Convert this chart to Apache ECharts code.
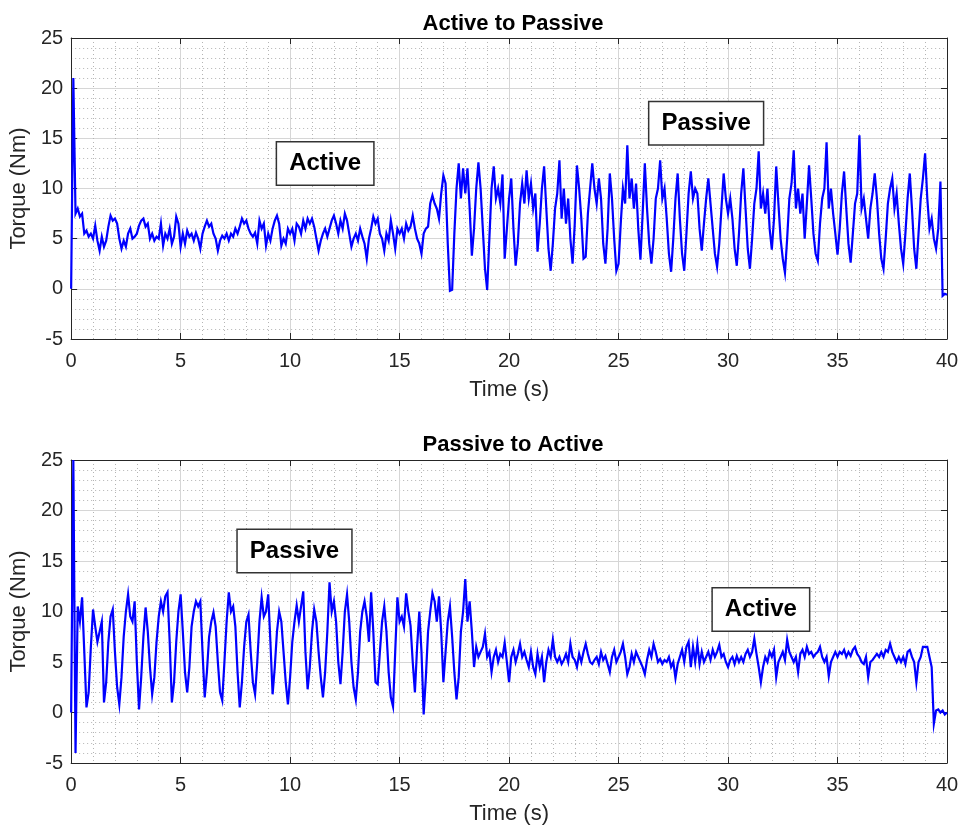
<!DOCTYPE html>
<html>
<head>
<meta charset="utf-8">
<title>Active / Passive torque</title>
<script src="https://cdn.jsdelivr.net/npm/echarts@6/dist/echarts.min.js"></script>
<style>
  html, body { margin: 0; padding: 0; background: #fff; }
  #chart { width: 962px; height: 830px; }
</style>
</head>
<body>
<div id="chart"></div>
<script>
// sample step of both recordings (s)
const dt = 0.1;

const titles = ["Active to Passive", "Passive to Active"];
const xName = "Time (s)";
const yName = "Torque (Nm)";

// torque, Active -> Passive run (Nm), one value every 0.1 s from 0 to 40 s
const activeToPassive = [
  0, 21, 7.5, 8, 7.2, 7.5, 5.5, 5.8, 5.2, 5.5,
  5.0, 6.3, 4.8, 3.8, 5.2, 4.2, 4.8, 6.2, 7.3, 6.8,
  7.0, 6.5, 5.0, 4.0, 4.8, 4.2, 5.5, 6.0, 5.0, 5.2,
  5.5, 6.3, 6.8, 7.0, 6.2, 6.5, 5.0, 5.5, 4.8, 5.2,
  5.0, 6.5, 4.3, 5.5, 5.0, 6.0, 4.5, 5.2, 7.2, 6.5,
  4.2, 5.5, 4.5, 5.8, 5.2, 5.5, 4.8, 5.6, 5.0, 4.0,
  5.5, 6.2, 6.8, 6.2, 6.5, 5.5, 5.0, 3.8, 4.8, 5.3,
  5.0, 5.5, 4.8, 5.5, 5.2, 6.0, 5.5, 6.2, 7.0, 6.5,
  6.8, 6.0, 5.5, 5.2, 5.6, 4.5, 6.8, 6.0, 6.5, 4.3,
  5.5, 4.8, 6.0, 6.8, 7.3, 6.5, 4.3, 5.0, 4.5, 6.0,
  5.5, 6.0, 4.8, 6.5, 6.2, 5.5, 6.8, 6.0, 7.0, 6.5,
  7.0, 6.2, 5.0, 3.8, 4.8, 5.5, 6.0, 5.2, 6.0, 6.8,
  7.3, 6.5, 5.5, 6.8, 6.0, 7.5, 6.8, 5.5, 4.2, 5.0,
  5.5, 4.8, 6.0, 5.2, 4.5, 3.0, 5.0, 6.0, 7.2, 6.5,
  7.0, 5.5, 5.0, 3.8, 5.5, 4.8, 6.8, 5.5, 4.0, 6.0,
  5.5, 6.0, 5.0, 6.5, 5.8, 6.2, 7.3, 6.0, 5.0, 4.5,
  3.5, 5.5, 6.0, 6.2, 8.5, 9.3, 8.5, 8.0, 7.0, 9.5,
  11.3, 10.5, 4.5, -0.2, -0.1, 5.5, 10.0, 12.5, 9.0, 12.0,
  9.5, 12.0, 8.0, 3.3, 6.0, 10.0, 12.6, 10.0, 6.0, 2.0,
  -0.1, 5.0, 10.0, 12.2, 9.0, 10.0, 8.5, 11.4, 3.0, 6.0,
  9.0, 11.0, 6.0, 2.3, 4.5, 8.5, 10.5, 8.5, 11.8, 9.0,
  10.5, 8.0, 9.5, 3.7, 6.5, 10.0, 12.2, 8.0, 4.0, 1.8,
  4.5, 8.0, 9.5, 12.8, 7.0, 10.0, 6.5, 9.0, 5.0, 2.5,
  6.5, 12.3, 10.0, 7.0, 3.0, 3.2, 7.5, 10.0, 12.5, 10.0,
  8.5, 11.0, 9.0, 4.5, 2.5, 6.0, 11.5, 9.0, 5.0, 1.8,
  2.5, 6.5, 10.0, 8.5, 14.3, 9.0, 11.0, 8.0, 10.5, 6.0,
  2.9, 7.5, 12.5, 8.0, 4.5, 2.5, 5.0, 9.0, 10.0, 12.8,
  9.0, 10.0, 7.0, 3.5, 1.7, 5.0, 9.0, 11.5, 7.0, 3.5,
  1.8, 5.5, 9.5, 11.7, 9.0, 10.0, 9.5, 6.0, 3.8, 6.5,
  9.0, 11.0, 8.5, 6.0, 3.5, 2.2, 4.5, 8.0, 11.5, 9.0,
  7.5, 9.0, 7.0, 4.0, 2.3, 5.5, 9.5, 12.0, 8.0, 4.0,
  2.0, 5.0, 8.5, 10.0, 13.7, 8.0, 9.5, 7.5, 10.0, 6.0,
  3.9, 7.0, 12.2, 8.5, 5.0, 3.0, 1.6, 5.0, 9.0, 10.5,
  13.8, 8.0, 10.0, 7.5, 9.5, 5.0, 8.5, 12.3, 9.0, 5.5,
  3.5, 2.8, 6.5, 9.0, 10.0, 14.6, 8.0, 10.0, 7.5, 5.5,
  3.4, 6.0, 9.5, 11.7, 8.0, 4.5, 2.6, 5.5, 8.5, 9.5,
  15.3, 8.0, 9.0, 7.0, 5.0, 8.0, 9.5, 11.5, 9.0, 5.5,
  3.0, 2.0, 5.0, 8.5, 10.0, 11.0, 8.0, 9.5, 6.5, 4.0,
  2.5, 5.5, 9.0, 11.5, 8.0, 4.0, 2.0, 5.5, 9.0, 11.0,
  13.5, 9.0, 6.0, 7.0, 5.0, 4.0, 6.0, 10.7, -0.7, -0.5,
  -0.6
];

// torque, Passive -> Active run (Nm), one value every 0.1 s from 0 to 40 s
const passiveToActive = [
  0, 25, -4, 10.5, 9.0, 11.4, 6.0, 0.5, 2.0, 6.5,
  10.2, 8.5, 7.0, 8.0, 9.0, 1.0, 3.0, 7.0, 9.5, 10.2,
  6.0, 2.5, 0.8, 3.5, 7.5, 10.0, 11.7, 9.5, 9.0, 11.0,
  5.0, 0.3, 3.5, 7.5, 10.4, 8.0, 4.5, 1.8, 3.5, 7.0,
  9.5, 11.0, 10.0, 11.5, 11.9, 7.0, 1.0, 3.0, 7.0, 10.0,
  11.7, 8.0, 4.0, 2.0, 4.5, 8.5, 10.0, 11.0, 10.5, 11.0,
  6.0, 1.5, 4.0, 7.5, 9.0, 9.9, 8.5, 5.0, 2.0, 1.2,
  5.0, 9.0, 11.9, 10.0, 10.5, 8.5, 4.0, 0.5, 3.0, 6.5,
  9.0, 9.7, 6.0, 3.0, 1.8, 5.0, 9.0, 11.4, 9.5, 10.0,
  11.7, 7.0, 1.8, 4.5, 8.0, 10.0, 9.0, 6.0, 3.0, 0.8,
  3.5, 7.0, 9.0, 10.6, 9.0, 10.5, 12.0, 6.0, 2.3, 4.5,
  8.0, 10.2, 9.0, 6.0, 3.5, 1.5, 4.0, 8.0, 12.9, 10.0,
  11.0, 9.0, 5.0, 2.8, 6.0, 10.0, 11.7, 9.0, 5.0, 2.5,
  1.3, 4.0, 8.0, 10.0, 11.0, 9.5, 7.0, 11.9, 8.0, 3.0,
  2.8, 6.0, 9.0, 10.5, 8.0, 4.0, 1.5, 0.6, 6.0, 11.4,
  9.0, 9.5, 8.5, 11.8, 10.0, 8.6, 5.0, 2.0, 6.5, 10.0,
  6.0, -0.2, 3.5, 8.0, 10.0, 11.8, 11.0, 9.0, 11.5, 8.0,
  3.0, 6.0, 9.0, 10.5, 7.5, 4.0, 1.3, 3.5, 8.0, 10.0,
  13.2, 9.0, 11.0, 8.0, 4.5, 6.5, 5.5, 6.0, 6.5, 7.8,
  5.5, 6.0, 4.0, 5.5, 6.2, 5.0, 5.8, 5.5, 6.9, 5.0,
  3.0, 5.5, 6.2, 5.0, 5.8, 6.8, 5.5, 6.0, 5.2, 4.5,
  6.0, 4.5, 3.8, 5.8, 4.5, 5.5, 3.0, 5.0, 6.2, 5.5,
  7.2, 5.5, 5.0, 5.5, 4.8, 5.2, 5.8, 5.0, 6.8, 5.5,
  5.2, 4.5, 5.8, 5.0, 6.0, 6.8, 5.8, 5.0, 4.8, 5.2,
  5.5, 4.8, 6.0, 5.2, 5.6, 4.8, 4.0, 5.5, 6.2, 5.0,
  5.5, 6.0, 6.8, 5.5, 3.8, 4.5, 5.8, 5.0, 6.0, 5.5,
  5.0, 4.5, 3.8, 5.2, 6.2, 5.5, 6.8, 6.0, 5.0, 5.3,
  4.8, 5.2, 5.0, 5.5, 4.5, 5.0, 3.4, 4.8, 5.5, 6.2,
  5.0, 6.5, 7.0, 4.5, 6.5, 5.0, 6.8, 4.8, 6.0, 5.0,
  5.5, 6.0, 5.2, 6.2, 5.5, 6.0, 6.7, 5.5, 5.8, 5.0,
  4.5, 5.2, 5.5, 4.8, 5.6, 5.0, 5.5, 5.0, 5.8, 6.2,
  5.5, 6.0, 7.3, 5.8, 4.5, 3.0, 4.5, 5.5, 5.0, 6.0,
  5.5, 6.2, 3.5, 5.0, 5.5, 6.0, 5.2, 7.2, 6.0, 5.5,
  5.0, 5.5, 4.0, 5.8, 6.2, 5.5, 6.5, 5.8, 6.0, 5.5,
  5.8, 6.0, 6.5, 5.5, 5.0, 5.5, 3.6, 5.0, 5.5, 6.0,
  5.5, 6.0, 5.8, 6.2, 5.5, 6.0, 5.6, 6.2, 6.5, 5.8,
  5.5, 5.0, 4.8, 5.5, 3.5, 5.0, 5.2, 5.5, 5.8, 5.5,
  6.0, 5.5, 6.2, 6.0, 6.8, 6.0, 5.5, 5.0, 5.5, 5.0,
  5.5, 4.8, 6.0, 6.2, 5.5, 5.0, 3.0, 5.0, 5.5, 6.5,
  6.5, 6.5, 5.5, 4.5, -1.1, 0.2, 0.3, 0.0, 0.2, -0.2,
  0.0
];

const FONT = "'Liberation Sans', Arial, Helvetica, sans-serif";
const INK = "#262626";

const toPoints = vals => vals.map((v, i) => [Math.round(i * dt * 10) / 10, v]);

const chart = echarts.init(document.getElementById("chart"));

// main (labelled) axes
const mainX = grid => ({
  type: "value",
  gridIndex: grid,
  min: 0,
  max: 40,
  interval: 5,
  name: xName,
  nameLocation: "middle",
  nameGap: 40,
  nameTextStyle: { fontFamily: FONT, fontSize: 22, color: INK },
  axisLine: { show: true, onZero: false, lineStyle: { color: INK, width: 1 } },
  axisTick: { show: true, inside: true, length: 6, lineStyle: { color: INK } },
  axisLabel: { fontFamily: FONT, fontSize: 20, color: INK, margin: 12 },
  splitLine: { show: true, lineStyle: { color: "#d6d6d6", width: 1 } },
  minorTick: { show: false, splitNumber: 5 },
  minorSplitLine: { show: true, lineStyle: { color: "#b4b4b4", width: 1, type: [1, 3] } }
});
const mainY = grid => ({
  type: "value",
  gridIndex: grid,
  min: -5,
  max: 25,
  interval: 5,
  name: yName,
  nameLocation: "middle",
  nameGap: 38,
  nameTextStyle: { fontFamily: FONT, fontSize: 22, color: INK },
  axisLine: { show: true, onZero: false, lineStyle: { color: INK, width: 1 } },
  axisTick: { show: true, inside: true, length: 6, lineStyle: { color: INK } },
  axisLabel: { fontFamily: FONT, fontSize: 20, color: INK, margin: 8 },
  splitLine: { show: true, lineStyle: { color: "#d6d6d6", width: 1 } },
  minorTick: { show: false, splitNumber: 5 },
  minorSplitLine: { show: true, lineStyle: { color: "#b4b4b4", width: 1, type: [1, 3] } }
});
// box sides: ticks only
const boxX = grid => ({
  type: "value", gridIndex: grid, position: "top", min: 0, max: 40, interval: 5,
  axisLine: { show: true, onZero: false, lineStyle: { color: INK, width: 1 } },
  axisTick: { show: true, inside: true, length: 6, lineStyle: { color: INK } },
  axisLabel: { show: false }, splitLine: { show: false }
});
const boxY = grid => ({
  type: "value", gridIndex: grid, position: "right", min: -5, max: 25, interval: 5,
  axisLine: { show: true, onZero: false, lineStyle: { color: INK, width: 1 } },
  axisTick: { show: true, inside: true, length: 6, lineStyle: { color: INK } },
  axisLabel: { show: false }, splitLine: { show: false }
});

const noteLabel = {
  show: true,
  position: "inside",
  formatter: "{b}",
  fontFamily: FONT,
  fontWeight: "bold",
  fontSize: 24,
  lineHeight: 26,
  color: "#000",
  backgroundColor: "#fff",
  borderColor: "#333",
  borderWidth: 1.5,
  padding: [8, 12, 8, 12]
};

const lineSeries = (idx, vals, notes) => ({
  type: "line",
  xAxisIndex: idx * 2,
  yAxisIndex: idx * 2,
  data: toPoints(vals),
  showSymbol: false,
  symbol: "none",
  sampling: null,
  lineStyle: { color: "#0000ff", width: 2.2, join: "miter" },
  itemStyle: { color: "#0000ff" },
  markPoint: {
    symbol: "rect",
    symbolSize: 1,
    itemStyle: { color: "rgba(0,0,0,0)" },
    label: noteLabel,
    data: notes
  },
  z: 3
});

chart.setOption({
  animation: false,
  backgroundColor: "#fff",
  title: [
    { text: titles[0], left: 508, top: 8, textAlign: "center",
      textStyle: { fontFamily: FONT, fontSize: 22, fontWeight: "bold", color: "#000" } },
    { text: titles[1], left: 508, top: 429, textAlign: "center",
      textStyle: { fontFamily: FONT, fontSize: 22, fontWeight: "bold", color: "#000" } }
  ],
  grid: [
    { left: 70, top: 38, width: 877, height: 301 },
    { left: 70, top: 460, width: 877, height: 303 }
  ],
  xAxis: [mainX(0), boxX(0), mainX(1), boxX(1)],
  yAxis: [mainY(0), boxY(0), mainY(1), boxY(1)],
  series: [
    lineSeries(0, activeToPassive, [
      { name: "Active", coord: [11.6, 12.5] },
      { name: "Passive", coord: [29.0, 16.5] }
    ]),
    lineSeries(1, passiveToActive, [
      { name: "Passive", coord: [10.2, 16.0] },
      { name: "Active", coord: [31.5, 10.2] }
    ])
  ]
});
</script>
</body>
</html>
